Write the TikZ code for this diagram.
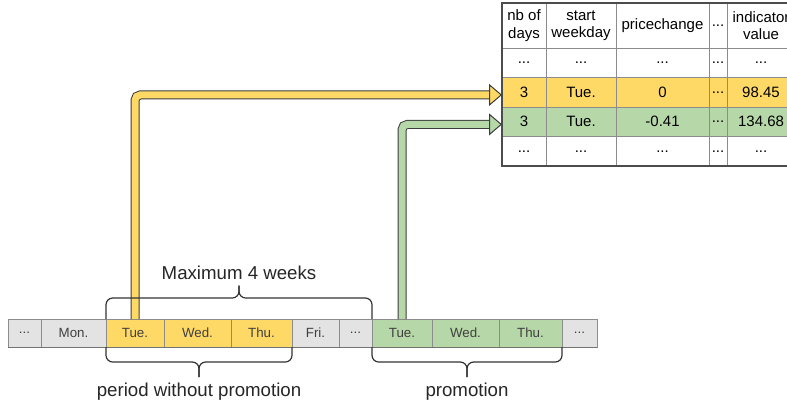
\documentclass[tikz,border=0pt]{standalone}
\usepackage{fontspec}
\setmainfont{Liberation Sans}
\usetikzlibrary{positioning,calc,arrows.meta}

\definecolor{promoyellow}{HTML}{FFD966}
\definecolor{promogreen}{HTML}{B6D7A8}
\definecolor{daygray}{HTML}{E3E3E3}
\definecolor{gridline}{HTML}{8C8C8C}
\definecolor{arrowedge}{HTML}{3C3C3C}

% Platzhalter fuer ausgelassene Zellen
\newcommand{\skipcell}{...}

\begin{document}
\begin{tikzpicture}[
		x=0.75pt, y=-0.75pt,
		day/.style={draw=gridline, fill=daygray, minimum height=21pt,
			inner sep=0pt, outer sep=0pt, text=black!75,
			font=\fontsize{10}{12}\selectfont},
		cell/.style={draw=gridline, minimum height=22.125pt, inner sep=0pt,
			outer sep=0pt, align=center, font=\fontsize{11.25}{13}\selectfont},
		head/.style={cell, minimum height=33.75pt},
		c1/.style={minimum width=33pt},
		c2/.style={minimum width=52.5pt},
		c3/.style={minimum width=69.75pt},
		c4/.style={minimum width=13.5pt},
		c5/.style={minimum width=51pt},
		bracket/.style={draw=black!80, line width=0.9pt, rounded corners=5pt},
		lbl/.style={font=\fontsize{14}{16}\selectfont, inner sep=0pt, text=black!85},
		blockarrow/.style={draw=#1, line width=5.25pt, rounded corners=4pt,
			preaction={draw=arrowedge, line width=6.75pt, -, shorten >=9.75pt},
			-{Triangle[length=9.75pt, width=16.5pt, line width=0.75pt,
				color=arrowedge, fill=#1]}},
	]
		\useasboundingbox (0,0) rectangle (787,405);

		% Wochentage als Zeitstrahl
		\node[day, minimum width=24.75pt, anchor=west] (s1) at (8,333) {...};
		\node[day, minimum width=48.75pt, right=0pt of s1] (s2) {Mon.};
		\node[day, fill=promoyellow, minimum width=43.5pt, right=0pt of s2] (s3) {Tue.};
		\node[day, fill=promoyellow, minimum width=50.25pt, right=0pt of s3] (s4) {Wed.};
		\node[day, fill=promoyellow, minimum width=45.75pt, right=0pt of s4] (s5) {Thu.};
		\node[day, minimum width=35.25pt, right=0pt of s5] (s6) {Fri.};
		\node[day, minimum width=24.75pt, right=0pt of s6] (s7) {...};
		\node[day, fill=promogreen, minimum width=45pt, right=0pt of s7] (s8) {Tue.};
		\node[day, fill=promogreen, minimum width=50.25pt, right=0pt of s8] (s9) {Wed.};
		\node[day, fill=promogreen, minimum width=47.25pt, right=0pt of s9] (s10) {Thu.};
		\node[day, minimum width=26.25pt, right=0pt of s10] (s11) {...};
		\draw[black!55, line width=1pt] ([yshift=-0.5pt]s1.south west) -- ([yshift=-0.5pt]s11.south east);

		% Tabelle
		\node[head, c1, anchor=north west] (h-1) at (502,3) {nb of\\days};
		\node[head, c2, right=0pt of h-1] (h-2) {start\\weekday};
		\node[head, c3, right=0pt of h-2] (h-3) {pricechange};
		\node[head, c4, right=0pt of h-3] (h-4) {...};
		\node[head, c5, right=0pt of h-4] (h-5) {indicator\\value};
		\foreach \rname/\prev/\rowfill/\va/\vb/\vc/\ve in {
			r1/h/white/\skipcell/\skipcell/\skipcell/\skipcell,
			r2/r1/promoyellow/3/Tue./0/98.45,
			r3/r2/promogreen/3/Tue./-0.41/134.68,
			r4/r3/white/\skipcell/\skipcell/\skipcell/\skipcell}
		{
			\node[cell, c1, fill=\rowfill, below=0pt of \prev-1] (\rname-1) {\va};
			\node[cell, c2, fill=\rowfill, right=0pt of \rname-1] (\rname-2) {\vb};
			\node[cell, c3, fill=\rowfill, right=0pt of \rname-2] (\rname-3) {\vc};
			\node[cell, c4, fill=\rowfill, right=0pt of \rname-3] (\rname-4) {\skipcell};
			\node[cell, c5, fill=\rowfill, right=0pt of \rname-4] (\rname-5) {\ve};
		}
		\draw[black!70, line width=0.9pt] (h-1.north west) rectangle (r4-5.south east);

		% Pfeile von den Zeiträumen zu den Tabellenzeilen
		\draw[blockarrow=promoyellow] (s3.north) |- ([yshift=-2pt]r2-1.west);
		\draw[blockarrow=promogreen] (s8.north) |- ([yshift=-2pt]r3-1.west);

		% Klammern
		\coordinate (maxmid) at ($(s3.north west)!0.5!(s7.north east)$);
		\draw[bracket] (s3.north west) |- ([yshift=15.75pt]maxmid) -- ([yshift=25pt]maxmid) coordinate (maxtip);
		\draw[bracket] (s7.north east) |- ([yshift=15.75pt]maxmid) -- (maxtip);
		\node[lbl, above=4.5pt of maxtip] (maxlbl) {Maximum 4 weeks};

		\coordinate (offmid) at ($(s3.south west)!0.5!(s5.south east)$);
		\draw[bracket] (s3.south west) |- ([yshift=-11.25pt]offmid) -- ([yshift=-22.5pt]offmid) coordinate (offtip);
		\draw[bracket] (s5.south east) |- ([yshift=-11.25pt]offmid) -- (offtip);
		\node[lbl, below=4pt of offtip] (offlbl) {period without promotion};

		\coordinate (promomid) at ($(s8.south west)!0.5!(s10.south east)$);
		\draw[bracket] (s8.south west) |- ([yshift=-11.25pt]promomid) -- ([yshift=-22.5pt]promomid) coordinate (promotip);
		\draw[bracket] (s10.south east) |- ([yshift=-11.25pt]promomid) -- (promotip);
		\node[lbl, below=4pt of promotip] (promolbl) {promotion};
	\end{tikzpicture}
\end{document}
